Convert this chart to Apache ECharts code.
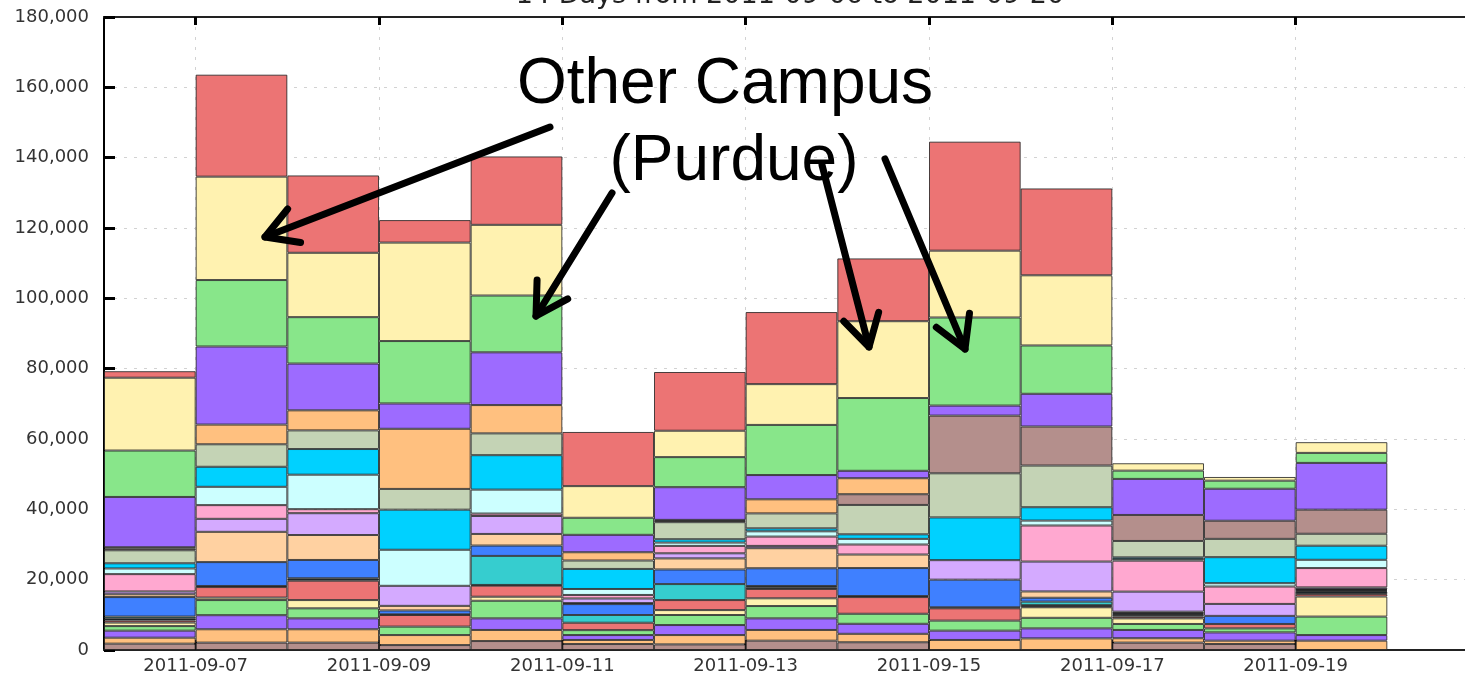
<!DOCTYPE html>
<html><head><meta charset="utf-8">
<script src="https://cdn.jsdelivr.net/npm/echarts/dist/echarts.min.js"></script>
<style>html,body{margin:0;padding:0;background:#fff}#c{width:1465px;height:677px}</style>
</head><body><div id="c"></div>
<script>
// ---- data ----
const days = ['2011-09-06','2011-09-07','2011-09-08','2011-09-09','2011-09-10','2011-09-11','2011-09-12',
              '2011-09-13','2011-09-14','2011-09-15','2011-09-16','2011-09-17','2011-09-18','2011-09-19','2011-09-20'];
const dayEdges = days.concat(['2011-09-21']);
const yTicks = [0,20000,40000,60000,80000,100000,120000,140000,160000,180000];

const brown     = [1800,2100,2100,1400,2550,1700,1600,2650,2200,0,0,2100,1700,0];
const orange    = [1700,3800,3800,2850,3150,1150,2650,3050,2400,2850,3300,1250,950,2650];
const purple    = [2000,4000,3100,0,3300,1400,2850,3300,2850,2650,2850,2350,2350,1600];
const green     = [1300,4300,2850,2400,5000,1400,2850,3500,2850,2850,3000,1700,1150,5250];
const yellow    = [1000,700,2350,0,1150,0,1400,2200,0,0,3000,1600,0,5700];
const red       = [600,3000,5500,3300,3150,2100,2850,2650,4750,3500,300,500,1250,700];
const dark      = [600,300,700,200,200,0,0,500,300,300,300,400,0,700];
const teal      = [500,0,0,0,8250,2200,4550,350,0,0,1000,300,0,200];
const blue      = [5550,6800,5200,1100,2950,3100,4150,5050,7950,7850,1100,300,2300,300];
const peach     = [800,8600,7100,1300,3300,300,3150,5700,3850,0,1800,400,0,200];
const lpurple   = [800,3700,6200,5700,5100,1300,1450,650,0,5550,8500,5700,3400,500];
const pink      = [4930,3900,1150,0,700,1000,2100,2650,2850,0,10250,8800,4950,5500];
const lcyan     = [1600,5200,9800,10250,6800,1700,950,1500,1600,0,1400,500,950,2350];
const cyan      = [1480,5700,7300,11400,9800,5700,950,850,1300,12150,3800,450,7400,4000];
const graygreen = [3700,6400,5300,5900,6200,2400,4850,4250,8350,12550,11850,4650,5200,3400];
const brown2    = [500,0,0,0,0,0,400,0,3050,16400,11100,7400,5150,6850];
const orange2   = [360,5600,5700,17100,8050,2350,250,4000,4550,0,0,0,0,0];
const purple2   = [14300,22200,13300,7200,15000,4950,9300,6900,2100,2850,9300,10250,9100,13300];
const green2    = [13200,18900,13200,17750,16150,4850,8550,14250,20700,25050,13750,2350,2300,2850];
const yellow2   = [20710,29400,18300,28000,20100,9000,7500,11600,21850,19000,19950,2100,1050,3050];
const red2      = [1850,29000,22000,6400,19450,15400,16700,20500,17850,31000,24700,0,0,0];

// ---- styling ----
const layers = [
  ['brown', brown, '#b48f8c'], ['orange', orange, '#ffc07f'], ['purple', purple, '#9d6bff'],
  ['green', green, '#88e68a'], ['yellow', yellow, '#fff2b0'], ['red', red, '#ec7474'],
  ['dark', dark, '#1e2e36'], ['teal', teal, '#36cdcf'], ['blue', blue, '#3f80ff'],
  ['peach', peach, '#ffd1a1'], ['lpurple', lpurple, '#d4aaff'], ['pink', pink, '#ffa8d0'],
  ['lcyan', lcyan, '#ccffff'], ['cyan', cyan, '#00d1ff'], ['graygreen', graygreen, '#c4d3b5'],
  ['brown2', brown2, '#b48f8c'], ['orange2', orange2, '#ffc07f'], ['purple2', purple2, '#9d6bff'],
  ['green2', green2, '#88e68a'], ['yellow2', yellow2, '#fff2b0'], ['red2', red2, '#ec7474']
];

const series = layers.map(([name, vals, color]) => ({
  name, type: 'bar', stack: 'total', xAxisIndex: 0, yAxisIndex: 0,
  barCategoryGap: '0%', barWidth: '100%',
  data: vals.map(v => v === 0 ? null : v),
  itemStyle: { color, borderColor: 'rgba(30,30,30,0.8)', borderWidth: 1 },
  emphasis: { disabled: true }
}));

const odd = (i) => i % 2 === 1;
const oddLabel = (i) => i % 2 === 1 && i < days.length;
const fmt = (v) => String(v).replace(/\B(?=(\d{3})+(?!\d))/g, ',');
const gridLine = { show: true, lineStyle: { color: '#d2d2d2', type: [3, 7], width: 1 } };

function arrow(x1, y1, x2, y2) {
  const ang = Math.atan2(y1 - y2, x1 - x2);
  const L = 36, a = Math.PI / 6;
  const p1 = [x2 + L * Math.cos(ang + a), y2 + L * Math.sin(ang + a)];
  const p2 = [x2 + L * Math.cos(ang - a), y2 + L * Math.sin(ang - a)];
  const st = { stroke: '#000', lineWidth: 7, fill: null, lineCap: 'round', lineJoin: 'round' };
  return [
    { type: 'polyline', z: 100, shape: { points: [[x1, y1], [x2, y2]] }, style: st },
    { type: 'polyline', z: 100, shape: { points: [p1, [x2, y2], p2] }, style: st }
  ];
}

const chart = echarts.init(document.getElementById('c'), null, { renderer: 'canvas' });
chart.setOption({
  animation: false,
  backgroundColor: '#fff',
  grid: { left: 104, top: 17, width: 1375, height: 633, containLabel: false, outerBoundsMode: 'none' },
  xAxis: [
    { type: 'category', data: days, show: false, boundaryGap: true },
    { type: 'category', data: dayEdges, boundaryGap: false, position: 'bottom',
      axisLine: { show: true, onZero: false, lineStyle: { color: '#222', width: 2 } },
      axisTick: { show: true, inside: true, length: 10, interval: odd, lineStyle: { color: '#000', width: 3 } },
      axisLabel: { show: true, interval: oddLabel, color: '#333', fontFamily: 'DejaVu Sans', fontSize: 18, margin: 7 },
      splitLine: Object.assign({ interval: odd }, gridLine) },
    { type: 'category', data: dayEdges, boundaryGap: false, position: 'top',
      axisLine: { show: true, onZero: false, lineStyle: { color: '#222', width: 2 } },
      axisTick: { show: true, inside: true, length: 8, interval: odd, lineStyle: { color: '#000', width: 3 } },
      axisLabel: { show: false }, splitLine: { show: false } }
  ],
  yAxis: [{
    type: 'value', min: yTicks[0], max: yTicks[yTicks.length - 1], interval: yTicks[1] - yTicks[0],
    position: 'left',
    axisLine: { show: true, onZero: false, lineStyle: { color: '#000', width: 2 } },
    axisTick: { show: true, inside: true, length: 11, lineStyle: { color: '#000', width: 3 } },
    axisLabel: { color: '#333', fontFamily: 'DejaVu Sans', fontSize: 18, margin: 15, formatter: fmt },
    splitLine: gridLine
  }],
  series,
  graphic: [
    { type: 'text', z: 100, style: { x: 790, y: -4, text: '14 Days from 2011-09-06 to 2011-09-20',
      font: '27px "DejaVu Sans"', fill: '#222', textAlign: 'center', textVerticalAlign: 'middle' } },
    { type: 'text', z: 100, style: { x: 725, y: 85, text: 'Other Campus',
      font: '64px "Liberation Sans", Arial, sans-serif', fill: '#000', textAlign: 'center', textVerticalAlign: 'middle' } },
    { type: 'text', z: 100, style: { x: 734, y: 162, text: '(Purdue)',
      font: '64px "Liberation Sans", Arial, sans-serif', fill: '#000', textAlign: 'center', textVerticalAlign: 'middle' } },
    ...arrow(550, 127, 265, 237),
    ...arrow(612, 193, 536, 316),
    ...arrow(822, 165, 869, 347),
    ...arrow(885, 159, 965, 349)
  ]
});
</script></body></html>
